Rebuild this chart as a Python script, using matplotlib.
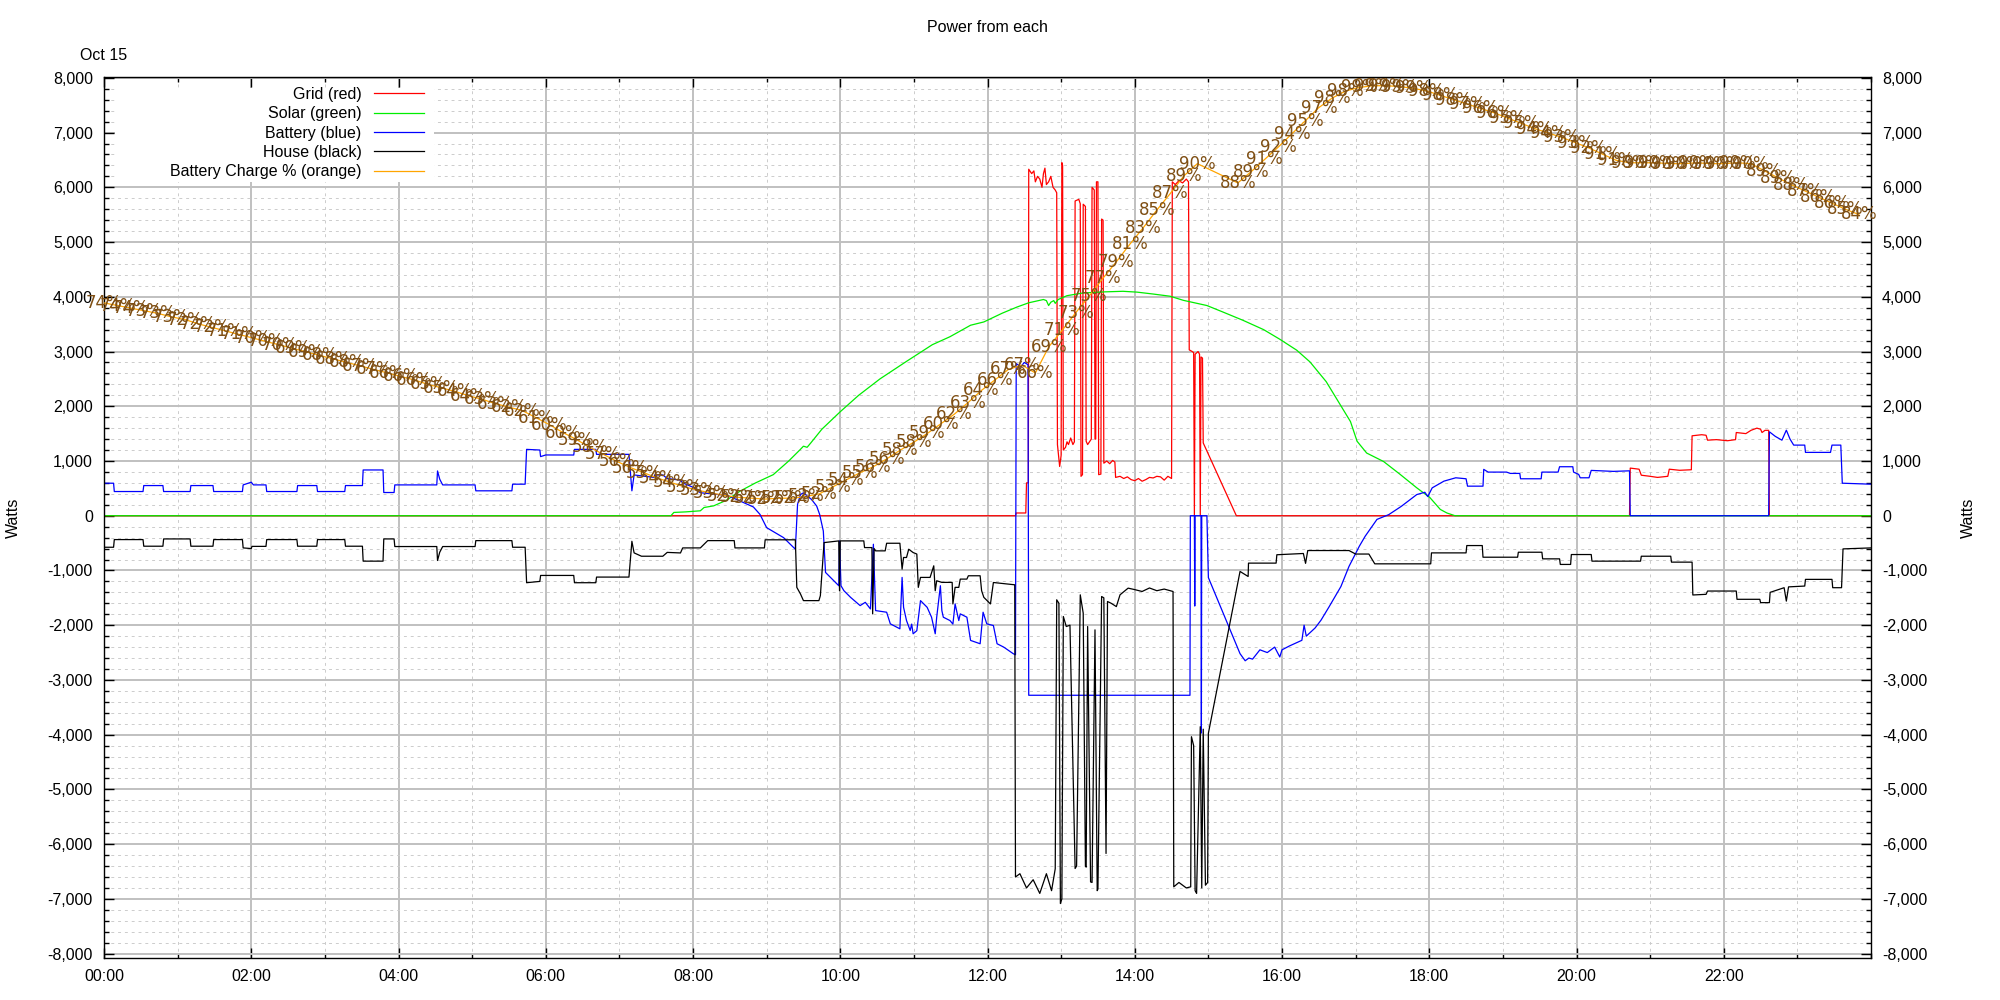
import numpy as np
import matplotlib.pyplot as plt
from matplotlib.patches import Rectangle
from matplotlib.ticker import FuncFormatter, MultipleLocator

plt.rcParams['font.family'] = ['Liberation Sans', 'DejaVu Sans']

# ---- data (time in hours, power in watts) ----
grid_pts = [(0, 0), (12.38, 0), (12.39, 50), (12.52, 50), (12.53, 600), (12.555, 600),
            (12.56, 6330), (12.6, 6250), (12.63, 6300), (12.65, 6100), (12.68, 6200),
            (12.71, 6150), (12.74, 6000), (12.76, 6250), (12.78, 6350), (12.8, 6050),
            (12.83, 6100), (12.86, 6200), (12.89, 6000), (12.92, 5950), (12.94, 5900),
            (12.95, 1300), (12.98, 900), (13.0, 1100), (13.01, 6450), (13.02, 6400),
            (13.03, 1200), (13.06, 1250), (13.08, 1350), (13.1, 1300), (13.13, 1420),
            (13.16, 1300), (13.18, 1350), (13.19, 5750), (13.24, 5780), (13.26, 5700),
            (13.27, 720), (13.29, 750), (13.30, 5690), (13.33, 5650), (13.34, 1360),
            (13.36, 1300), (13.41, 1400), (13.42, 6000), (13.45, 5950), (13.46, 1400),
            (13.47, 1400), (13.48, 6100), (13.50, 6100), (13.51, 750), (13.54, 760),
            (13.55, 5420), (13.57, 5400), (13.58, 960), (13.62, 1000), (13.66, 950),
            (13.70, 1010), (13.73, 980), (13.74, 700), (13.8, 720), (13.85, 680),
            (13.9, 710), (13.95, 660), (14.0, 640), (14.05, 680), (14.1, 630),
            (14.15, 660), (14.2, 700), (14.25, 690), (14.3, 720), (14.35, 710),
            (14.4, 650), (14.45, 720), (14.5, 680), (14.51, 6100), (14.55, 6050),
            (14.6, 6120), (14.65, 6080), (14.7, 6150), (14.73, 6100), (14.74, 3030),
            (14.78, 3000), (14.8, 2980), (14.81, 0), (14.82, 2950), (14.86, 3000),
            (14.88, 2950), (14.89, 0), (14.9, 2900), (14.92, 2880), (14.93, 1330),
            (15.38, 0), (20.72, 0), (20.73, 870), (20.85, 850), (20.88, 740),
            (21.0, 720), (21.1, 700), (21.24, 720), (21.26, 850), (21.4, 830),
            (21.56, 840), (21.57, 1460), (21.7, 1480), (21.76, 1470), (21.78, 1380),
            (21.9, 1390), (22.05, 1370), (22.16, 1390), (22.17, 1520), (22.3, 1500),
            (22.37, 1560), (22.45, 1600), (22.5, 1580), (22.52, 1520), (22.56, 1560),
            (22.61, 1560), (22.62, 0), (24, 0)]

solar_pts = [(0, 0), (7.70, 0), (7.74, 60), (7.9, 70), (8.1, 90), (8.15, 150),
             (8.28, 180), (8.45, 280), (8.64, 450), (8.85, 600), (9.09, 750),
             (9.3, 1000), (9.45, 1200), (9.5, 1270), (9.55, 1250), (9.6, 1330),
             (9.75, 1580), (10.0, 1900), (10.25, 2200), (10.54, 2500), (10.9, 2820),
             (11.25, 3124), (11.49, 3270), (11.77, 3480), (11.95, 3540), (12.2, 3700),
             (12.4, 3812), (12.56, 3890), (12.76, 3950), (12.8, 3930), (12.83, 3840),
             (12.86, 3900), (12.9, 3930), (12.92, 3880), (12.96, 3950), (13.08, 4020),
             (13.3, 4070), (13.6, 4090), (13.84, 4100), (14.03, 4085), (14.25, 4050),
             (14.48, 4010), (14.66, 3935), (14.98, 3840), (15.2, 3720), (15.47, 3570),
             (15.75, 3400), (15.97, 3224), (16.2, 3024), (16.38, 2810), (16.6, 2450),
             (16.93, 1720), (17.02, 1360), (17.15, 1145), (17.38, 990), (17.6, 760),
             (17.83, 510), (18.01, 330), (18.15, 115), (18.24, 50), (18.35, 0), (24, 0)]

battery_pts = [(0, 594), (0.13, 594), (0.14, 442), (0.53, 442), (0.54, 551), (0.80, 551),
               (0.81, 442), (1.17, 442), (1.18, 551), (1.48, 551), (1.49, 442), (1.88, 442),
               (1.89, 563), (2.0, 612), (2.03, 563), (2.2, 563), (2.21, 442), (2.62, 442),
               (2.63, 551), (2.89, 551), (2.9, 442), (3.27, 442), (3.28, 551), (3.51, 551),
               (3.52, 836), (3.79, 836), (3.8, 424), (3.94, 424), (3.95, 563), (4.52, 563),
               (4.53, 818), (4.56, 667), (4.6, 563), (5.04, 563), (5.05, 455), (5.54, 455),
               (5.55, 576), (5.72, 576), (5.74, 1212), (5.92, 1200), (5.93, 1080),
               (6.0, 1110), (6.38, 1109), (6.39, 1212), (6.68, 1212), (6.69, 1121),
               (7.13, 1121), (7.17, 455), (7.2, 745), (7.47, 700), (7.48, 745), (7.59, 745),
               (7.65, 680), (7.83, 650), (7.86, 600), (8.0, 520), (8.1, 420), (8.47, 370),
               (8.82, 160), (8.91, 24), (9.0, -218), (9.23, -400), (9.39, -612),
               (9.42, 206), (9.46, 388), (9.5, 418), (9.61, 297), (9.68, 176), (9.72, 24),
               (9.77, -279), (9.8, -1036), (9.98, -1279), (9.99, -460), (10.01, -1279),
               (10.05, -1370), (10.14, -1491), (10.27, -1642), (10.34, -1582),
               (10.41, -1703), (10.45, -521), (10.48, -1733), (10.63, -1763),
               (10.68, -1975), (10.81, -2066), (10.84, -1127), (10.86, -1673),
               (10.9, -1915), (10.95, -2097), (10.97, -1980), (10.99, -2157),
               (11.04, -2100), (11.09, -1551), (11.18, -1673), (11.24, -1854),
               (11.29, -2157), (11.31, -1854), (11.36, -1279), (11.38, -1733),
               (11.4, -1854), (11.49, -1915), (11.53, -1980), (11.56, -1612),
               (11.61, -1915), (11.63, -1793), (11.72, -1854), (11.77, -2278),
               (11.9, -2339), (11.94, -1763), (11.99, -1975), (12.08, -2006),
               (12.13, -2339), (12.22, -2400), (12.35, -2521), (12.38, -2540),
               (12.39, 2780), (12.45, 2720), (12.5, 2800), (12.55, 2760), (12.56, -3280),
               (14.75, -3280), (14.755, 0), (14.81, 0), (14.815, -1650), (14.82, 0),
               (14.9, 0), (14.905, -3970), (14.91, 0), (14.98, 0), (15.0, -1130),
               (15.43, -2520), (15.5, -2650), (15.55, -2600), (15.6, -2620), (15.7, -2450),
               (15.8, -2500), (15.9, -2400), (15.97, -2580), (16.0, -2450), (16.1, -2380),
               (16.27, -2276), (16.3, -2000), (16.33, -2200), (16.45, -2050),
               (16.53, -1908), (16.64, -1663), (16.8, -1294), (16.91, -926),
               (17.05, -558), (17.13, -374), (17.29, -67), (17.45, 20), (17.62, 171),
               (17.83, 386), (17.94, 429), (17.98, 350), (18.04, 509), (18.2, 632),
               (18.36, 693), (18.5, 675), (18.52, 540), (18.73, 540), (18.74, 847),
               (18.8, 797), (19.05, 797), (19.1, 773), (19.23, 773), (19.24, 675),
               (19.52, 675), (19.53, 797), (19.75, 797), (19.77, 895), (19.95, 895),
               (19.96, 797), (20.03, 754), (20.05, 693), (20.17, 693), (20.2, 828),
               (20.5, 810), (20.72, 820), (20.73, 0), (22.61, 0), (22.62, 1533),
               (22.7, 1450), (22.79, 1380), (22.85, 1563), (22.9, 1400), (22.95, 1290),
               (23.1, 1290), (23.11, 1157), (23.45, 1157), (23.47, 1290), (23.59, 1290),
               (23.61, 594), (24, 576)]

house_pts = [(0, -576), (0.13, -576), (0.14, -436), (0.53, -436), (0.54, -557), (0.80, -557),
             (0.81, -424), (1.17, -424), (1.18, -557), (1.48, -557), (1.49, -436),
             (1.88, -436), (1.89, -588), (2.0, -600), (2.01, -560), (2.2, -560),
             (2.21, -436), (2.62, -436), (2.63, -557), (2.89, -557), (2.9, -436),
             (3.27, -436), (3.28, -557), (3.51, -557), (3.52, -830), (3.79, -830),
             (3.8, -424), (3.94, -424), (3.95, -563), (4.52, -563), (4.53, -818),
             (4.56, -667), (4.6, -563), (5.04, -563), (5.05, -455), (5.54, -455),
             (5.55, -576), (5.72, -576), (5.74, -1224), (5.92, -1200), (5.93, -1091),
             (6.38, -1091), (6.39, -1224), (6.68, -1224), (6.69, -1121), (7.13, -1121),
             (7.17, -467), (7.2, -679), (7.3, -740), (7.59, -740), (7.65, -670),
             (7.83, -680), (7.86, -588), (8.1, -588), (8.2, -455), (8.56, -455),
             (8.57, -588), (8.97, -588), (8.98, -440), (9.39, -440), (9.41, -1309),
             (9.46, -1430), (9.5, -1551), (9.71, -1551), (9.73, -1460), (9.78, -491),
             (9.98, -460), (9.99, -1370), (10.0, -460), (10.32, -460), (10.33, -582),
             (10.43, -582), (10.44, -1793), (10.46, -600), (10.48, -642), (10.61, -642),
             (10.63, -503), (10.81, -503), (10.84, -976), (10.86, -763), (10.9, -763),
             (10.93, -612), (10.99, -673), (11.04, -700), (11.06, -1309), (11.09, -1127),
             (11.22, -1127), (11.27, -915), (11.29, -1370), (11.31, -1188),
             (11.38, -1218), (11.52, -1218), (11.53, -1612), (11.56, -1309),
             (11.61, -1309), (11.63, -1158), (11.72, -1158), (11.74, -1097),
             (11.9, -1097), (11.92, -1370), (11.95, -1491), (12.04, -1612),
             (12.08, -1220), (12.37, -1262), (12.38, -6600), (12.44, -6540),
             (12.53, -6800), (12.62, -6650), (12.71, -6900), (12.8, -6540),
             (12.87, -6850), (12.92, -6450), (12.94, -1536), (12.97, -1600),
             (12.99, -7085), (13.01, -7000), (13.03, -1841), (13.07, -2024),
             (13.12, -2000), (13.19, -6445), (13.21, -6400), (13.26, -1445),
             (13.3, -1780), (13.33, -6400), (13.34, -6420), (13.36, -2024),
             (13.4, -6690), (13.42, -6700), (13.46, -2085), (13.49, -6850),
             (13.5, -6820), (13.55, -1476), (13.58, -1500), (13.61, -6170),
             (13.63, -1567), (13.68, -1600), (13.75, -1660), (13.8, -1445),
             (13.91, -1323), (14.0, -1350), (14.1, -1384), (14.2, -1320), (14.3, -1370),
             (14.4, -1340), (14.52, -1384), (14.53, -6780), (14.6, -6700), (14.7, -6800),
             (14.76, -6780), (14.77, -4037), (14.8, -4200), (14.82, -6850),
             (14.84, -6900), (14.89, -3854), (14.91, -6800), (14.93, -3900),
             (14.96, -6750), (14.99, -6700), (15.0, -3975), (15.43, -1018),
             (15.54, -1110), (15.545, -866), (15.92, -866), (15.93, -713), (16.29, -690),
             (16.32, -870), (16.35, -636), (16.91, -636), (17.0, -700), (17.18, -700),
             (17.26, -879), (18.02, -879), (18.03, -679), (18.5, -679), (18.51, -545),
             (18.72, -545), (18.73, -758), (19.2, -758), (19.21, -667), (19.53, -667),
             (19.54, -788), (19.77, -788), (19.78, -890), (19.92, -890), (19.93, -709),
             (20.2, -709), (20.21, -830), (20.87, -830), (20.88, -740), (21.28, -740),
             (21.29, -848), (21.57, -848), (21.58, -1448), (21.76, -1436),
             (21.78, -1376), (22.17, -1376), (22.18, -1527), (22.49, -1527),
             (22.5, -1588), (22.62, -1588), (22.63, -1400), (22.82, -1315),
             (22.85, -1560), (22.88, -1300), (23.1, -1285), (23.11, -1163),
             (23.47, -1163), (23.48, -1315), (23.6, -1315), (23.62, -606), (24, -588)]

# battery state of charge, one reading about every 11 minutes (gap after 14:51)
soc_minutes_a = np.arange(0, 892, 11)
soc_a = [74.3, 74.0, 73.7, 73.4, 73.1, 72.7, 72.4, 71.9, 71.5, 71.1,
         70.7, 70.3, 69.9, 69.5, 69.1, 68.7, 68.3, 67.9, 67.5, 67.1,
         66.7, 66.3, 65.9, 65.5, 65.0, 64.6, 64.2, 63.7, 63.3, 62.8,
         62.4, 62.0, 61.2, 60.4, 59.5, 58.7, 57.8, 57.0, 56.2, 55.5,
         54.9, 54.3, 53.8, 53.3, 52.9, 52.6, 52.3, 52.1, 52.0, 51.9,
         52.0, 52.0, 52.2, 52.5, 53.3, 54.1, 54.9, 55.6, 56.5, 57.5,
         58.4, 59.4, 60.5, 61.6, 62.9, 64.3, 65.5, 66.7, 67.2, 66.3,
         69.3, 71.2, 73.2, 75.1, 77.1, 79.0, 81.0, 82.9, 84.9, 86.8,
         88.8, 90.2]
soc_minutes_b = np.arange(924, 1431, 11)
soc_b = [88.0, 89.3, 90.7, 92.1, 93.6, 95.1, 96.6, 97.7, 98.5, 98.9,
         99.1, 99.1, 99.0, 98.8, 98.5, 98.0, 97.5, 97.0, 96.5, 96.0,
         95.4, 94.8, 94.2, 93.7, 93.2, 92.6, 92.0, 91.3, 90.6, 90.3,
         90.3, 90.3, 90.2, 90.2, 90.3, 90.2, 90.2, 90.3, 90.2,
         89.4, 88.6, 87.8, 87.1, 86.4, 85.7, 85.0, 84.4]

x_ticks = list(range(0, 24, 2))
x_labels = [f"{h:02d}:00" for h in x_ticks]

# ---- figure ----
fig = plt.figure(figsize=(20, 10), dpi=100)
ax = fig.add_axes([0.052, 0.042, 0.8835, 0.881])

series = [("Grid (red)", grid_pts, "#ff0000"),
          ("Solar (green)", solar_pts, "#00ee00"),
          ("Battery (blue)", battery_pts, "#0000ff"),
          ("House (black)", house_pts, "#000000")]
handles = []
for name, pts, col in series:
    t, w = np.array(pts).T
    ln, = ax.plot(t, w, color=col, lw=0.9, label=name, zorder=2)
    handles.append(ln)

# charge % shares the watt axis: 0 % at -8000, 100 % at +8000
soc_t = np.concatenate([soc_minutes_a, soc_minutes_b]) / 60
soc = np.array(soc_a + soc_b)
soc_y = soc * 160 - 8000
ln, = ax.plot(soc_t, soc_y, color="#ffa500", lw=0.9, label="Battery Charge % (orange)", zorder=3)
handles.append(ln)
for t, v, y in zip(soc_t, soc, soc_y):
    ax.text(t, y, f"{v:.0f}%", ha="center", va="center", fontsize=12,
            family="DejaVu Sans", color="#7f4f14", zorder=4)

ax.set_xlim(0, 24)
ax.set_ylim(-8080, 8015)
ax.set_xticks(x_ticks)
ax.set_xticklabels(x_labels)
ax.xaxis.set_minor_locator(MultipleLocator(1))
ax.yaxis.set_major_locator(MultipleLocator(1000))
ax.yaxis.set_minor_locator(MultipleLocator(200))
ax.yaxis.set_major_formatter(FuncFormatter(lambda v, p: f"{int(round(v)):,}"))

ax.tick_params(which="both", direction="in", top=True, right=True, labelright=True,
               labelsize=11.5, width=1)
ax.tick_params(which="major", length=7, pad=8)
ax.tick_params(which="minor", length=3.5)
for s in ax.spines.values():
    s.set_linewidth(1)

ax.set_axisbelow(True)
ax.grid(which="major", color="#c0c0c0", lw=1.4, ls="-")
ax.grid(which="minor", color="#cccccc", lw=0.7, ls=(0, (3, 4)))

# key area is blanked like gnuplot's opaque key
ax.add_patch(Rectangle((0.0065, 0.881), 0.18, 0.1065, transform=ax.transAxes,
                       facecolor="white", edgecolor="none", zorder=1))
ax.legend(handles=handles, loc="upper right", bbox_to_anchor=(0.1811, 0.9886),
          markerfirst=False, frameon=False, fontsize=11.5, handlelength=3.1,
          handletextpad=0.8, labelspacing=0.27, borderpad=0, borderaxespad=0)

fig.text(0.49375, 0.973, "Power from each", ha="center", va="center", fontsize=11.5)
fig.text(0.052, 0.944, "Oct 15", ha="center", va="center", fontsize=11.5)
fig.text(0.0065, 0.4825, "Watts", rotation=90, ha="center", va="center", fontsize=11.5)
fig.text(0.984, 0.4825, "Watts", rotation=90, ha="center", va="center", fontsize=11.5)

fig.savefig("out.png", dpi=100)
